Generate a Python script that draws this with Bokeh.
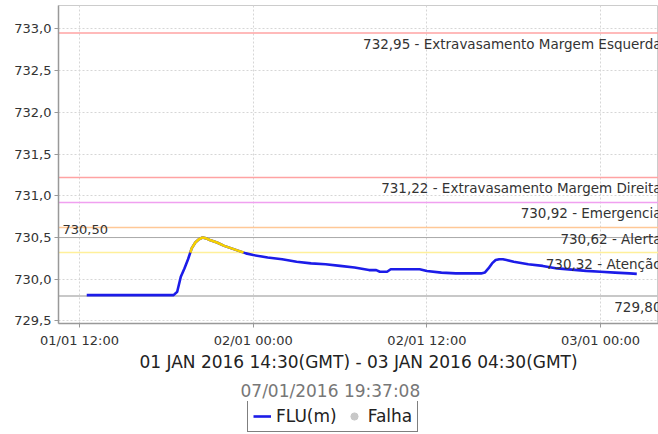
import numpy as np
import pandas as pd
from bokeh.plotting import figure
from bokeh.layouts import column
from bokeh.models import (Range1d, FixedTicker, DatetimeTickFormatter, CustomJSTickFormatter,
                          Span, Legend, LegendItem, Title, ColumnDataSource)
from bokeh.core.properties import value
from bokeh.embed import file_html
from bokeh.resources import INLINE

# ---------------- data ----------------
times = [
    "2016-01-01 12:30", "2016-01-01 13:00", "2016-01-01 13:30", "2016-01-01 14:00",
    "2016-01-01 14:30", "2016-01-01 15:00", "2016-01-01 15:30", "2016-01-01 16:00",
    "2016-01-01 16:30", "2016-01-01 17:00", "2016-01-01 17:30", "2016-01-01 18:00",
    "2016-01-01 18:30", "2016-01-01 18:45", "2016-01-01 19:00", "2016-01-01 19:15",
    "2016-01-01 19:30", "2016-01-01 19:45", "2016-01-01 20:00", "2016-01-01 20:15",
    "2016-01-01 20:30", "2016-01-01 20:45", "2016-01-01 21:00", "2016-01-01 21:30",
    "2016-01-01 22:00", "2016-01-01 22:30", "2016-01-01 23:00", "2016-01-01 23:30",
    "2016-01-02 00:00", "2016-01-02 01:00", "2016-01-02 02:00", "2016-01-02 03:00",
    "2016-01-02 04:00", "2016-01-02 05:00", "2016-01-02 06:00", "2016-01-02 07:00",
    "2016-01-02 08:00", "2016-01-02 08:30", "2016-01-02 08:45", "2016-01-02 09:15",
    "2016-01-02 09:30", "2016-01-02 11:30", "2016-01-02 12:00", "2016-01-02 13:00",
    "2016-01-02 14:00", "2016-01-02 15:45", "2016-01-02 16:00", "2016-01-02 16:15",
    "2016-01-02 16:30", "2016-01-02 16:45", "2016-01-02 17:00", "2016-01-02 17:15",
    "2016-01-02 17:30", "2016-01-02 18:00", "2016-01-02 19:00", "2016-01-02 20:00",
    "2016-01-02 21:00", "2016-01-02 22:00", "2016-01-02 23:00", "2016-01-03 00:00",
    "2016-01-03 01:00", "2016-01-03 02:00", "2016-01-03 02:30",
]
levels = [
    729.81, 729.81, 729.81, 729.81,
    729.81, 729.81, 729.81, 729.81,
    729.81, 729.81, 729.81, 729.81,
    729.81, 729.85, 730.03, 730.13,
    730.24, 730.37, 730.44, 730.48,
    730.50, 730.49, 730.47, 730.44,
    730.40, 730.37, 730.34, 730.31,
    730.29, 730.26, 730.24, 730.21,
    730.19, 730.18, 730.16, 730.14,
    730.11, 730.11, 730.09, 730.09,
    730.12, 730.12, 730.10, 730.08,
    730.07, 730.07, 730.08, 730.13,
    730.19, 730.23, 730.24, 730.24,
    730.23, 730.21, 730.18, 730.16,
    730.13, 730.115, 730.10, 730.09,
    730.08, 730.07, 730.065,
]

threshold_values = [732.95, 731.22, 730.92, 730.62, 730.32, 729.80]
threshold_labels = [
    "732,95 - Extravasamento Margem Esquerda",
    "731,22 - Extravasamento Margem Direita",
    "730,92 - Emergencia",
    "730,62 - Alerta",
    "730,32 - Atenção",
    "729,80",
]
threshold_colors = ["#ffa3a3", "#ffa3a3", "#f0a0f0", "#ffc896", "#fff09a", "#c8c8c8"]
max_value = 730.50
max_label = "730,50"
alert_level = 730.32

x_ticks = ["2016-01-01 12:00", "2016-01-02 00:00", "2016-01-02 12:00", "2016-01-03 00:00"]
x_start, x_end = "2016-01-01 10:33", "2016-01-03 04:00"
y_start, y_end = 729.47, 733.28
y_ticks = [729.5, 730.0, 730.5, 731.0, 731.5, 732.0, 732.5, 733.0]

axis_title = "01 JAN 2016 14:30(GMT) - 03 JAN 2016 04:30(GMT)"
stamp = "07/01/2016 19:37:08"
series_name = "FLU(m)"
fail_name = "Falha"

BLUE = "#1c1ce8"
YELLOW = "#f5d000"
GREY = "#c8c8c8"
FONT = "DejaVu Sans"

# ---------------- helpers ----------------
def to_ms(s):
    return pd.Timestamp(s).value / 1e6

tm = np.array([to_ms(s) for s in times])
lv = np.array(levels)

# split into runs above the alert level (yellow) with interpolated crossings
yx, yy = [], []
cx, cy = [], []
for i in range(len(lv)):
    if lv[i] >= alert_level:
        if not cx and i > 0:
            f = (alert_level - lv[i - 1]) / (lv[i] - lv[i - 1])
            cx.append(tm[i - 1] + f * (tm[i] - tm[i - 1])); cy.append(alert_level)
        cx.append(tm[i]); cy.append(lv[i])
    elif cx:
        f = (alert_level - lv[i - 1]) / (lv[i] - lv[i - 1])
        cx.append(tm[i - 1] + f * (tm[i] - tm[i - 1])); cy.append(alert_level)
        yx.append(cx); yy.append(cy)
        cx, cy = [], []
if cx:
    yx.append(cx); yy.append(cy)

# ---------------- main chart ----------------
p = figure(width=658, height=374, x_axis_type="datetime",
           x_range=Range1d(to_ms(x_start), to_ms(x_end)),
           y_range=Range1d(y_start, y_end),
           output_backend="svg", toolbar_location=None,
           min_border_left=58, min_border_right=0, min_border_top=5, min_border_bottom=50,
           background_fill_color="white", border_fill_color="white")
p.outline_line_color = "#cccccc"

for val, col in zip(threshold_values, threshold_colors):
    p.add_layout(Span(location=val, dimension="width", line_color=col,
                      line_width=2 if val == threshold_values[-1] else 1.5, level="underlay"))
p.add_layout(Span(location=max_value, dimension="width", line_color="#aaaaaa",
                  line_width=1, level="underlay"))

p.line(tm, lv, line_color=BLUE, line_width=2.6)
p.multi_line(yx, yy, line_color=YELLOW, line_width=2.6)

src = ColumnDataSource(dict(x=[to_ms(x_end)] * len(threshold_values),
                            y=threshold_values, t=threshold_labels))
p.text(x="x", y="y", text="t", source=src, text_align="right", text_baseline="middle",
       x_offset=3, y_offset=11, text_font=value(FONT), text_font_size="13.5px",
       text_color="#333333")
p.text(x=[to_ms(x_start)], y=[max_value], text=[max_label], text_align="left",
       text_baseline="bottom", x_offset=4, y_offset=-4, text_font=value(FONT),
       text_font_size="13px", text_color="#333333")

p.xaxis.ticker = FixedTicker(ticks=[to_ms(s) for s in x_ticks])
fmt = "%d/%m %H:%M"
p.xaxis.formatter = DatetimeTickFormatter(milliseconds=fmt, seconds=fmt, minsec=fmt, minutes=fmt,
                                          hourmin=fmt, hours=fmt, days=fmt, months=fmt, years=fmt)
p.yaxis.ticker = FixedTicker(ticks=y_ticks)
p.yaxis.formatter = CustomJSTickFormatter(code="return tick.toFixed(1).replace('.', ',');")
for ax in (p.xaxis[0], p.yaxis[0]):
    ax.axis_line_color = "#999999"
    ax.axis_line_width = 1.5
    ax.major_tick_line_color = "#999999"
    ax.major_tick_out = 4
    ax.major_tick_in = 0
    ax.minor_tick_line_color = None
    ax.major_label_text_font = FONT
    ax.major_label_text_font_size = "13px"
    ax.major_label_text_color = "#333333"
p.yaxis.major_label_standoff = 3
p.xaxis.major_label_standoff = 5
p.xaxis.axis_label = axis_title
p.xaxis.axis_label_text_font = FONT
p.xaxis.axis_label_text_font_size = "17px"
p.xaxis.axis_label_text_font_style = "normal"
p.xaxis.axis_label_text_color = "#222222"
p.xaxis.axis_label_standoff = 1

for g in (p.xgrid[0], p.ygrid[0]):
    g.grid_line_color = "#d6d6d6"
    g.grid_line_dash = "2 2"
p.xgrid.ticker = p.xaxis.ticker
p.ygrid.ticker = p.yaxis.ticker

# ---------------- timestamp + legend strip ----------------
q = figure(width=658, height=60, output_backend="svg", toolbar_location=None,
           x_range=Range1d(0, 1), y_range=Range1d(0, 1),
           x_axis_location=None, y_axis_location=None,
           min_border_left=0, min_border_right=0, min_border_top=27, min_border_bottom=0,
           background_fill_color="white", border_fill_color="white")
q.grid.visible = False
q.outline_line_color = None
q.title = Title(text=stamp, align="left", offset=182, vertical_align="bottom",
                text_font=FONT, text_font_size="17px",
                text_font_style="normal", text_color="#777777", standoff=2)
leg_line = q.line(x=[np.nan], y=[np.nan], line_color=BLUE, line_width=2.6)
leg_fail = q.scatter(x=[np.nan], y=[np.nan], size=10, color=GREY, marker="circle")
legend = Legend(items=[LegendItem(label=series_name, renderers=[leg_line]),
                       LegendItem(label=fail_name, renderers=[leg_fail])],
                orientation="horizontal", location=(189, 2), border_line_color="black",
                border_line_width=1, padding=5, spacing=8, margin=0,
                label_text_font=FONT, label_text_font_size="17px", label_text_color="#222222",
                glyph_width=18, glyph_height=20, label_standoff=5)
q.add_layout(legend, "center")

open("out.html", "w").write(file_html(column(p, q, spacing=0), INLINE))
